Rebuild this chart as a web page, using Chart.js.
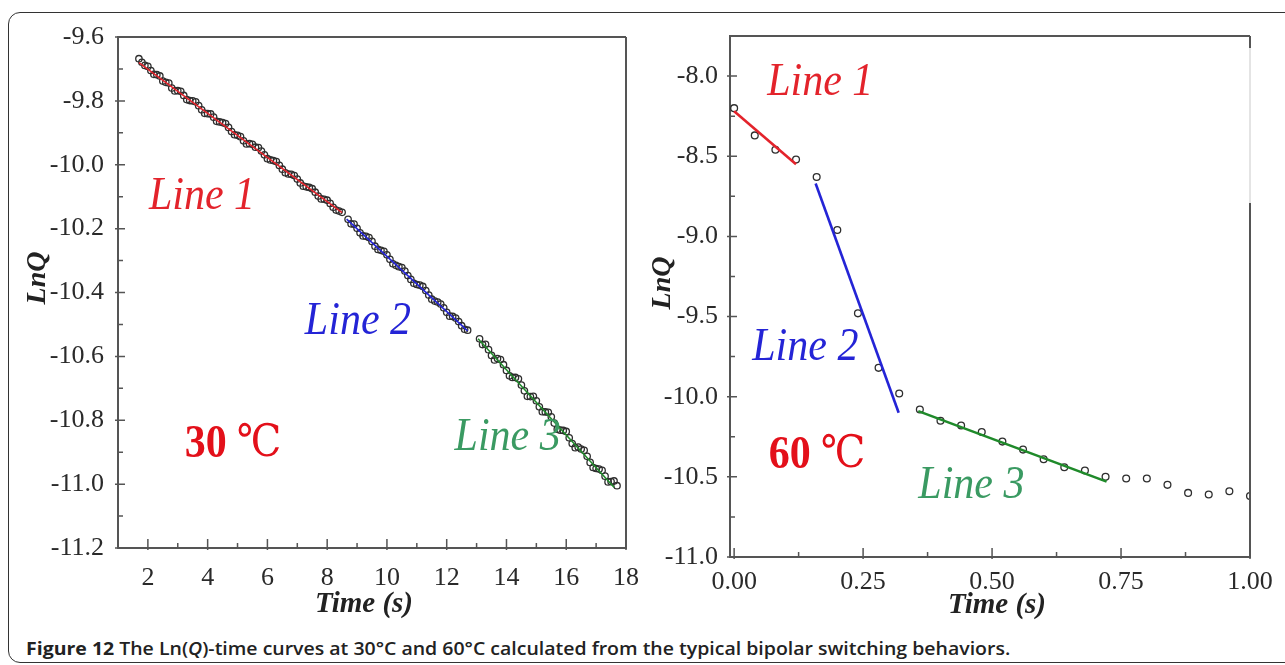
<!DOCTYPE html>
<html>
<head>
<meta charset="utf-8">
<script src="https://cdn.jsdelivr.net/npm/chart.js@4.4.0/dist/chart.umd.min.js"></script>
<style>
html, body { margin: 0; padding: 0; background: #fff; }
body { width: 1285px; height: 665px; position: relative; overflow: hidden; }
#frame { position: absolute; left: 8px; top: 12px; width: 1320px; height: 651px; border: 1.5px solid #333; border-radius: 12px; box-sizing: border-box; }
#c30 { position: absolute; left: 0; top: 0; }
#c60 { position: absolute; left: 640px; top: 0; }
#cap { position: absolute; left: 26px; top: 636px; font-family: "Open Sans"; font-weight: 600; font-size: 18px; white-space: nowrap; color: #222; transform-origin: 0 0; }
#cap b { font-weight: 700; }
</style>
</head>
<body>
<div id="frame"></div>
<canvas id="c30" width="640" height="630"></canvas>
<canvas id="c60" width="645" height="630"></canvas>
<div id="cap"><b>Figure 12</b> The Ln(<i>Q</i>)-time curves at 30°C and 60°C calculated from the typical bipolar switching behaviors.</div>
<script>
// 30 C measurement (s, LnQ)
const time30 = [1.7,1.8,1.9,2.0,2.1,2.2,2.3,2.4,2.5,2.6,2.7,2.8,2.9,3.0,3.1,3.2,3.3,3.4,3.5,3.6,
  3.7,3.8,3.9,4.0,4.1,4.2,4.3,4.4,4.5,4.6,4.7,4.8,4.9,5.0,5.1,5.2,5.3,5.4,5.5,5.6,
  5.7,5.8,5.9,6.0,6.1,6.2,6.3,6.4,6.5,6.6,6.7,6.8,6.9,7.0,7.1,7.2,7.3,7.4,7.5,7.6,
  7.7,7.8,7.9,8.0,8.1,8.2,8.3,8.4,8.5,
  8.7,8.8,8.9,9.0,9.1,9.2,9.3,9.4,9.5,9.6,9.7,9.8,9.9,10.0,10.1,10.2,10.3,10.4,10.5,10.6,
  10.7,10.8,10.9,11.0,11.1,11.2,11.3,11.4,11.5,11.6,11.7,11.8,11.9,12.0,12.1,12.2,12.3,12.4,12.5,12.6,12.7,
  13.1,13.2,13.3,13.4,13.5,13.6,13.7,13.8,13.9,14.0,14.1,14.2,14.3,14.4,14.5,14.6,14.7,14.8,14.9,15.0,
  15.1,15.2,15.3,15.4,15.5,15.6,15.7,15.8,15.9,16.0,16.1,16.2,16.3,16.4,16.5,16.6,16.7,16.8,16.9,17.0,
  17.1,17.2,17.3,17.4,17.5,17.6,17.7];
const lnq30 = [-9.668,-9.679,-9.689,-9.692,-9.705,-9.717,-9.718,-9.722,-9.738,-9.742,
  -9.744,-9.760,-9.769,-9.768,-9.770,-9.783,-9.796,-9.799,-9.800,-9.803,
  -9.815,-9.828,-9.839,-9.840,-9.841,-9.851,-9.864,-9.866,-9.868,-9.871,
  -9.883,-9.896,-9.906,-9.908,-9.912,-9.925,-9.935,-9.934,-9.936,-9.945,
  -9.946,-9.957,-9.969,-9.981,-9.985,-9.987,-9.990,-10.002,-10.014,-10.025,
  -10.029,-10.030,-10.034,-10.045,-10.057,-10.067,-10.069,-10.071,-10.075,-10.086,
  -10.098,-10.107,-10.108,-10.111,-10.121,-10.133,-10.142,-10.145,-10.149,
  -10.171,-10.185,-10.186,-10.199,-10.213,-10.223,-10.224,-10.228,-10.240,-10.255,
  -10.265,-10.268,-10.271,-10.282,-10.296,-10.310,-10.315,-10.319,-10.322,-10.333,
  -10.347,-10.359,-10.371,-10.375,-10.377,-10.381,-10.394,-10.408,-10.421,-10.427,
  -10.430,-10.436,-10.448,-10.462,-10.474,-10.475,-10.480,-10.491,-10.504,-10.515,
  -10.518,
  -10.545,-10.563,-10.562,-10.579,-10.597,-10.611,-10.607,-10.610,-10.626,-10.644,
  -10.661,-10.666,-10.666,-10.670,-10.690,-10.708,-10.725,-10.726,-10.725,-10.739,
  -10.758,-10.773,-10.774,-10.775,-10.789,-10.809,-10.828,-10.831,-10.832,-10.835,
  -10.855,-10.873,-10.886,-10.884,-10.890,-10.894,-10.913,-10.932,-10.948,-10.951,
  -10.953,-10.957,-10.975,-10.993,-10.992,-10.990,-11.005];

// 30 C fitted lines (end points)
const fit30Line1X = [1.7, 8.5],   fit30Line1Y = [-9.68, -10.15];
const fit30Line2X = [8.65, 12.7], fit30Line2Y = [-10.17, -10.52];
const fit30Line3X = [13.05, 17.6], fit30Line3Y = [-10.545, -11.01];

// 60 C measurement
const time60 = [0.00,0.04,0.08,0.12,0.16,0.20,0.24,0.28,0.32,0.36,0.40,0.44,0.48,
  0.52,0.56,0.60,0.64,0.68,0.72,0.76,0.80,0.84,0.88,0.92,0.96,1.00];
const lnq60 = [-8.20,-8.37,-8.46,-8.52,-8.63,-8.96,-9.48,-9.82,-9.98,-10.08,-10.15,-10.18,-10.22,
  -10.28,-10.33,-10.39,-10.44,-10.46,-10.50,-10.51,-10.51,-10.55,-10.60,-10.61,-10.59,-10.62];

const fit60Line1X = [0.0, 0.12],   fit60Line1Y = [-8.22, -8.55];
const fit60Line2X = [0.158, 0.319], fit60Line2Y = [-8.67, -10.10];
const fit60Line3X = [0.357, 0.722], fit60Line3Y = [-10.09, -10.53];

// axis ticks
const x30Major = [2, 4, 6, 8, 10, 12, 14, 16, 18];
const x30Minor = [3, 5, 7, 9, 11, 13, 15, 17];
const y30Major = [-9.6, -9.8, -10.0, -10.2, -10.4, -10.6, -10.8, -11.0, -11.2];
const y30Minor = [-9.7, -9.9, -10.1, -10.3, -10.5, -10.7, -10.9, -11.1];
const x60Major = [0, 0.25, 0.5, 0.75, 1.0];
const x60Minor = [0.125, 0.375, 0.625, 0.875];
const y60Major = [-8.0, -8.5, -9.0, -9.5, -10.0, -10.5, -11.0];
const y60Minor = [-8.25, -8.75, -9.25, -9.75, -10.25, -10.75];

const RED = '#e3232b', BLUE = '#2424d6', GREEN = '#1f8a2a';
const AXIS = '#555';
const serif = '"Liberation Serif", "Times New Roman", serif';

function pts(xs, ys) { return xs.map((v, i) => ({ x: v, y: ys[i] })); }

const frameTicks = {
  id: 'frameTicks',
  afterDatasetsDraw(chart, args, o) {
    const { ctx, chartArea: a, scales: { x, y } } = chart;
    ctx.save();
    ctx.strokeStyle = AXIS;
    ctx.lineWidth = 2;
    ctx.beginPath();
    ctx.moveTo(a.left, a.top); ctx.lineTo(a.right, a.top);
    ctx.stroke();
    if (o.lightRight) {
      ctx.beginPath();
      ctx.moveTo(a.right, a.top); ctx.lineTo(a.right, a.top + 12);
      ctx.moveTo(a.right, a.top + 167); ctx.lineTo(a.right, a.bottom);
      ctx.stroke();
      ctx.strokeStyle = '#e4e4e4';
      ctx.beginPath();
      ctx.moveTo(a.right, a.top + 12); ctx.lineTo(a.right, a.top + 167);
      ctx.stroke();
      ctx.strokeStyle = AXIS;
    } else {
      ctx.beginPath();
      ctx.moveTo(a.right, a.top); ctx.lineTo(a.right, a.bottom);
      ctx.stroke();
    }
    ctx.lineWidth = 1.5;
    ctx.beginPath();
    o.xMajor.forEach(v => { const p = x.getPixelForValue(v); ctx.moveTo(p, a.bottom + 2); ctx.lineTo(p, a.bottom - 9); });
    o.xMinor.forEach(v => { const p = x.getPixelForValue(v); ctx.moveTo(p, a.bottom); ctx.lineTo(p, a.bottom - 5); });
    o.yMajor.forEach(v => { const p = y.getPixelForValue(v); ctx.moveTo(a.left - 3, p); ctx.lineTo(a.left + 7, p); });
    o.yMinor.forEach(v => { const p = y.getPixelForValue(v); ctx.moveTo(a.left, p); ctx.lineTo(a.left + 5, p); });
    ctx.stroke();

    // annotations in data space
    ctx.textAlign = 'center';
    ctx.textBaseline = 'middle';
    o.labels.forEach(l => {
      const px = x.getPixelForValue(l.x), py = y.getPixelForValue(l.y);
      ctx.save();
      ctx.translate(px, py);
      ctx.scale(1, 1.12);
      ctx.fillStyle = l.color;
      if (l.deg) {
        ctx.font = 'bold 42px ' + serif;
        const w1 = ctx.measureText(l.text).width;
        ctx.font = '40px "DejaVu Serif", ' + serif;
        const w2 = ctx.measureText('\u2103').width;
        const gap = 10, start = -(w1 + gap + w2) / 2;
        ctx.textAlign = 'left';
        ctx.font = 'bold 42px ' + serif;
        ctx.fillText(l.text, start, 0);
        ctx.font = '40px "DejaVu Serif", ' + serif;
        ctx.fillText('\u2103', start + w1 + gap, 0);
      } else {
        ctx.font = 'italic 42px ' + serif;
        ctx.fillText(l.text, 0, 0);
      }
      ctx.restore();
    });

    // axis titles
    ctx.fillStyle = '#222';
    ctx.font = 'bold italic 29px ' + serif;
    ctx.fillText('Time (s)', o.xTitle[0], o.xTitle[1]);
    ctx.save();
    ctx.translate(o.yTitle[0], o.yTitle[1]);
    ctx.rotate(-Math.PI / 2);
    ctx.font = 'bold italic 28px ' + serif;
    ctx.fillText('LnQ', 0, 0);
    ctx.restore();
    ctx.restore();
  }
};

function makeChart(id, cfg) {
  const fix = (horiz, size) => s => {
    if (horiz) s.height = size; else s.width = size;
    s.paddingLeft = s.paddingRight = s.paddingTop = s.paddingBottom = 0;
  };
  const line = (xs, ys, color, w) => ({
    type: 'line', data: pts(xs, ys), borderColor: color, borderWidth: w,
    pointRadius: 0, showLine: true, fill: false, order: 1, tension: 0
  });
  return new Chart(document.getElementById(id), {
    type: 'scatter',
    data: {
      datasets: [
        { data: pts(cfg.xs, cfg.ys), pointRadius: cfg.r, pointBorderWidth: cfg.pw,
          pointBorderColor: '#2e2e2e', pointBackgroundColor: 'rgba(255,255,255,0)', order: 2 },
        line(cfg.f1[0], cfg.f1[1], RED, cfg.lw),
        line(cfg.f2[0], cfg.f2[1], BLUE, cfg.lw),
        line(cfg.f3[0], cfg.f3[1], GREEN, cfg.lw)
      ]
    },
    options: {
      responsive: false, animation: false,
      layout: { padding: cfg.pad },
      plugins: { legend: { display: false }, tooltip: { enabled: false }, frameTicks: cfg.plug },
      scales: {
        x: {
          type: 'linear', min: cfg.xMin, max: cfg.xMax,
          afterBuildTicks: s => { s.ticks = cfg.plug.xMajor.map(v => ({ value: v })); },
          afterFit: fix(true, cfg.xH),
          grid: { display: false },
          border: { display: true, color: AXIS, width: 2 },
          ticks: { font: { family: serif, size: 26 }, color: '#2a2a2a', padding: cfg.xPad, maxRotation: 0, autoSkip: false,
            callback: cfg.xFmt }
        },
        y: {
          type: 'linear', min: cfg.yMin, max: cfg.yMax,
          afterBuildTicks: s => { s.ticks = cfg.plug.yMajor.map(v => ({ value: v })); },
          afterFit: fix(false, cfg.yW),
          grid: { display: false },
          border: { display: true, color: AXIS, width: 2 },
          ticks: { font: { family: serif, size: 26 }, color: '#2a2a2a', padding: cfg.yPad, autoSkip: false,
            callback: v => v.toFixed(1) }
        }
      }
    },
    plugins: [frameTicks]
  });
}

makeChart('c30', {
  xs: time30, ys: lnq30, r: 3.2, pw: 1.3, lw: 1.6,
  f1: [fit30Line1X, fit30Line1Y], f2: [fit30Line2X, fit30Line2Y], f3: [fit30Line3X, fit30Line3Y],
  xMin: 1, xMax: 18, yMin: -11.2, yMax: -9.6,
  pad: { left: 0, top: 37, right: 14, bottom: 0 }, xH: 82, yW: 118, xPad: 7, yPad: 6,
  xFmt: v => String(v),
  plug: {
    xMajor: x30Major, xMinor: x30Minor, yMajor: y30Major, yMinor: y30Minor,
    xTitle: [364, 605], yTitle: [38, 278],
    labels: [
      { text: 'Line 1', x: 3.81, y: -10.10, color: RED },
      { text: 'Line 2', x: 9.03, y: -10.49, color: BLUE },
      { text: 'Line 3', x: 14.04, y: -10.855, color: '#3a9a62' },
      { text: '30', x: 4.85, y: -10.877, color: '#e3101a', deg: true }
    ]
  }
});

makeChart('c60', {
  xs: time60, ys: lnq60, r: 3.4, pw: 1.3, lw: 2.6,
  f1: [fit60Line1X, fit60Line1Y], f2: [fit60Line2X, fit60Line2Y], f3: [fit60Line3X, fit60Line3Y],
  xMin: -0.008, xMax: 1.0, yMin: -11.0, yMax: -7.75,
  pad: { left: 0, top: 36, right: 35, bottom: 0 }, xH: 73, yW: 90, xPad: 2, yPad: 4,
  xFmt: v => v.toFixed(2),
  plug: {
    xMajor: x60Major, xMinor: x60Minor, yMajor: y60Major, yMinor: y60Minor, lightRight: true,
    xTitle: [357, 606], yTitle: [23, 283],
    labels: [
      { text: 'Line 1', x: 0.167, y: -8.043, color: RED },
      { text: 'Line 2', x: 0.138, y: -9.695, color: BLUE },
      { text: 'Line 3', x: 0.46, y: -10.555, color: '#3a9a62' },
      { text: '60', x: 0.161, y: -10.368, color: '#e3101a', deg: true }
    ]
  }
});

const cap = document.getElementById('cap');
cap.style.transform = 'scaleX(' + (984 / cap.offsetWidth) + ')';
</script>
</body>
</html>
